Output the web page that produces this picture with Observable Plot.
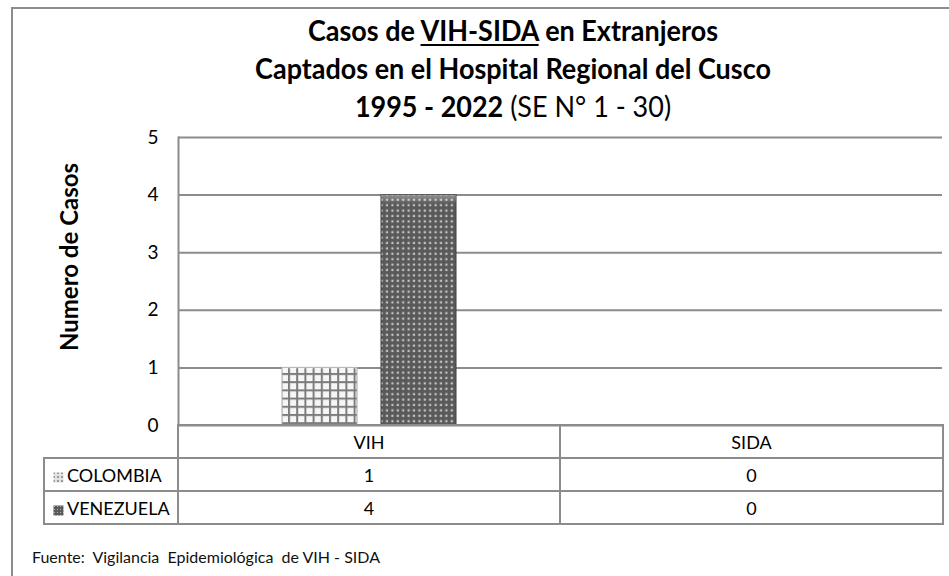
<!DOCTYPE html>
<html>
<head>
<meta charset="utf-8">
<script src="https://cdn.jsdelivr.net/npm/d3@7"></script>
<script src="https://cdn.jsdelivr.net/npm/@observablehq/plot@0.6"></script>
<style>
  html, body { margin: 0; padding: 0; background: #fff; overflow: hidden; }
  #wrap { position: relative; width: 949px; height: 576px; overflow: hidden; background: #fff; font-family: Lato, "DejaVu Sans", sans-serif; color: #000; }
  #frame { position: absolute; left: 11px; top: 7px; width: 1100px; height: 800px; border: 2px solid #8c8c8c; box-sizing: border-box; }
  #title { position: absolute; left: 113px; width: 800px; top: 11px; text-align: center; font-size: 29px; line-height: 38px; font-weight: 700; white-space: nowrap; transform: scaleX(0.93); transform-origin: 50% 0; }
  #title u { text-decoration-thickness: 2px; text-underline-offset: 3px; }
  #title .reg { font-weight: 400; }
  #ylabel { position: absolute; left: 68px; top: 257px; transform: translate(-50%, -50%) rotate(-90deg); font-size: 24px; font-weight: 700; white-space: nowrap; }
  #chart { position: absolute; left: 0; top: 127px; }
  #tbl { position: absolute; left: 43px; top: 424px; border-collapse: collapse; font-size: 18px; table-layout: fixed; }
  #tbl td { border: 2px solid #8c8c8c; text-align: center; padding: 0; height: 31px; }
  #tbl td.blank { border: none; }
  #tbl td.leg { text-align: left; padding-left: 8px; white-space: nowrap; }
  #tbl td.leg svg { vertical-align: -1px; margin-right: 3px; }
  #footer { position: absolute; left: 32px; top: 547px; font-size: 16px; white-space: pre; color: #111; }
</style>
</head>
<body>
<svg width="0" height="0" style="position:absolute">
  <defs>
    <pattern id="pat-col" patternUnits="userSpaceOnUse" width="8.2" height="8.2">
      <rect width="8.2" height="8.2" fill="#f6f6f6"/>
      <rect x="0" y="0" width="8.2" height="2" fill="#7c7c7c"/>
      <rect x="0" y="0" width="2" height="8.2" fill="#7c7c7c"/>
    </pattern>
    <pattern id="pat-ven" patternUnits="userSpaceOnUse" width="5.4" height="5.4">
      <rect width="5.4" height="5.4" fill="#595959"/>
      <rect x="1.5" y="1.5" width="2.2" height="2.2" fill="#c4c4c4"/>
    </pattern>
    <pattern id="pat-col-icon" patternUnits="userSpaceOnUse" width="4" height="4">
      <rect width="4" height="4" fill="#e2e2e2"/>
      <rect x="0" y="0" width="2" height="2" fill="#9a9a9a"/>
    </pattern>
    <pattern id="pat-ven-icon" patternUnits="userSpaceOnUse" width="3" height="3">
      <rect width="3" height="3" fill="#5a5a5a"/>
      <rect x="1" y="1" width="1" height="1" fill="#b0b0b0"/>
    </pattern>
    <linearGradient id="bevel" x1="0" y1="0" x2="0" y2="1">
      <stop offset="0" stop-color="#ffffff" stop-opacity="0.35"/>
      <stop offset="0.04" stop-color="#ffffff" stop-opacity="0"/>
    </linearGradient>
  </defs>
</svg>
<div id="wrap">
  <div id="frame"></div>
  <div id="title"></div>
  <div id="ylabel"></div>
  <div id="chart"></div>
  <table id="tbl"></table>
  <div id="footer"></div>
</div>
<script>
// ---- data ----
const categories = ["VIH", "SIDA"];
const countries = ["COLOMBIA", "VENEZUELA"];
const colombiaValues = [1, 0];
const venezuelaValues = [4, 0];
const yTicks = [0, 1, 2, 3, 4, 5];
const titleLine1 = ["Casos de ", "VIH-SIDA", " en Extranjeros"];
const titleLine2 = "Captados en el Hospital Regional del Cusco";
const titleLine3 = ["1995 - 2022", " (SE N° 1 - 30)"];
const yLabel = "Numero de Casos";
const footerText = "Fuente:  Vigilancia  Epidemiológica  de VIH - SIDA";
const patternFills = ["url(#pat-col)", "url(#pat-ven)"];
const patternStrokes = ["#a8a8a8", "#3c3c3c"];
const iconFills = ["url(#pat-col-icon)", "url(#pat-ven-icon)"];

const seriesValues = [colombiaValues, venezuelaValues];
const rows = [];
categories.forEach((cat, i) => {
  countries.forEach((c, j) => rows.push({ cat, country: c, value: seriesValues[j][i] }));
});
const gridRows = categories.flatMap(cat => yTicks.map(t => ({ cat, t })));

// ---- texts ----
document.getElementById("title").innerHTML =
  `${titleLine1[0]}<u>${titleLine1[1]}</u>${titleLine1[2]}<br>${titleLine2}<br>${titleLine3[0]}<span class="reg">${titleLine3[1]}</span>`;
document.getElementById("ylabel").textContent = yLabel;
document.getElementById("footer").textContent = footerText;

// ---- chart ----
const chart = Plot.plot({
  width: 949,
  height: 300,
  marginLeft: 177,
  marginRight: 7,
  marginTop: 10,
  marginBottom: 2,
  style: { fontFamily: "Lato, sans-serif", fontSize: "18px", color: "#000", background: "transparent", overflow: "visible" },
  fx: { domain: categories, padding: 0, axis: null },
  x: { domain: countries, paddingInner: 0.24, paddingOuter: 1.03, axis: null },
  y: { domain: [0, 5], label: null },
  marks: [
    Plot.ruleY(gridRows, { fx: "cat", y: "t", stroke: "#8c8c8c", strokeWidth: 2 }),
    Plot.axisY(yTicks, { tickSize: 0, tickPadding: 20, fontSize: 19, label: null, tickFormat: d3.format("d"), fill: "#000" }),
    Plot.frame({ anchor: "left", stroke: "#8c8c8c", strokeWidth: 2, facetAnchor: "left" }),
    ...countries.map((c, j) =>
      Plot.barY(rows.filter(d => d.country === c && d.value > 0), {
        fx: "cat", x: "country", y: "value",
        fill: patternFills[j], stroke: patternStrokes[j], strokeWidth: 1
      })
    ),
    Plot.barY(rows.filter(d => d.value > 0), {
      fx: "cat", x: "country", y: "value", fill: "url(#bevel)"
    })
  ]
});
document.getElementById("chart").appendChild(chart);

// ---- data table ----
const tbl = document.getElementById("tbl");
const colgroup = document.createElement("colgroup");
[134, 382, 383].forEach(w => { const col = document.createElement("col"); col.style.width = w + "px"; colgroup.appendChild(col); });
tbl.appendChild(colgroup);
const head = document.createElement("tr");
head.innerHTML = `<td class="blank"></td>` + categories.map(c => `<td>${c}</td>`).join("");
tbl.appendChild(head);
countries.forEach((c, j) => {
  const tr = document.createElement("tr");
  tr.innerHTML = `<td class="leg"><svg width="11" height="11"><rect x="0.5" y="0.5" width="10" height="10" fill="${iconFills[j]}"/></svg>${c}</td>` +
    seriesValues[j].map(v => `<td>${v}</td>`).join("");
  tbl.appendChild(tr);
});
</script>
</body>
</html>
